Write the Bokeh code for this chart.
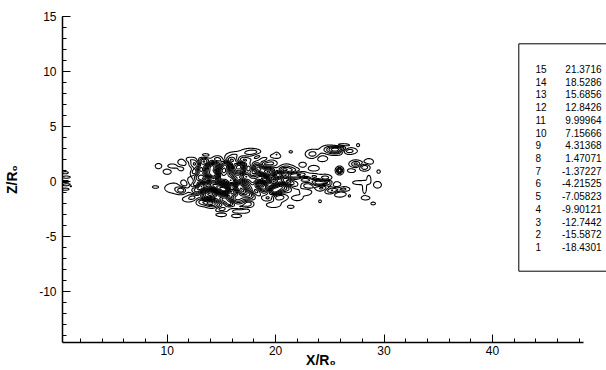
import numpy as np
from bokeh.plotting import figure
from bokeh.models import SingleIntervalTicker, Range1d
from bokeh.embed import file_html
from bokeh.resources import INLINE
from bokeh.core.properties import value

# ---------------- data ----------------
level_ids = [15, 14, 13, 12, 11, 10, 9, 8, 7, 6, 5, 4, 3, 2, 1]
level_values = [21.3716, 18.5286, 15.6856, 12.8426, 9.99964, 7.15666, 4.31368,
                1.47071, -1.37227, -4.21525, -7.05823, -9.90121, -12.7442,
                -15.5872, -18.4301]
level_labels = ["21.3716", "18.5286", "15.6856", "12.8426", "9.99964", "7.15666",
                "4.31368", "1.47071", "-1.37227", "-4.21525", "-7.05823",
                "-9.90121", "-12.7442", "-15.5872", "-18.4301"]

# vortical structures (centre x, centre z, amplitude, half-widths)
blob_x = [12.6, 13.4, 14.2, 13.0, 15.2, 16.3, 17.0, 16.0, 14.0, 12.8, 13.7, 14.8, 15.7,
          16.6, 17.3, 15.3, 16.4, 14.4, 16.8, 17.2, 12.2, 17.6, 17.6, 18.4,
          12.3, 13.8, 14.6, 15.8, 14.9, 16.0, 13.2, 12.4, 15.0, 16.9, 17.9, 13.5, 17.5,
          12.5, 13.1, 13.6, 14.4, 15.5, 16.8, 17.5, 13.2, 14.3, 15.4, 16.1, 17.0,
          13.9, 15.8, 16.5, 12.6, 17.8,
          18.4, 18.7, 19.4, 20.2, 20.8, 19.0, 19.9, 20.3, 18.2, 20.0, 21.0,
          19.6, 18.8, 21.0, 19.3, 21.4, 18.0,
          18.6, 19.2, 19.8, 20.5, 18.9, 20.6, 21.3,
          16.2, 18.0, 15.0, 16.4, 19.8, 22.0, 12.0, 11.9,
          9.2, 10.0, 10.5, 11.4, 11.3, 8.9, 10.7, 11.3, 11.6,
          21.5, 22.2, 22.8, 21.8, 23.5, 24.0, 24.6, 24.3, 25.2, 25.9, 22.8, 23.5, 22.5,
          23.0, 24.8, 25.6, 26.3,
          23.4, 24.3, 25.6, 26.6, 26.0, 27.6, 25.9, 27.4, 28.2, 28.6, 27.0,
          27.7, 28.2, 28.6, 29.4, 28.3, 29.0, 29.5,
          20.1, 21.4, 21.4, 24.1, 26.8,
          0.6, 0.7, 0.6, 0.8, 0.6, 1.1]
blob_z = [1.6, 1.8, 1.3, 0.4, 1.0, 1.2, 1.9, 2.0, -0.2, -0.8, -1.2, -0.6, 0.2,
          -0.4, 0.5, -1.6, -1.5, -2.1, -2.3, -2.6, 0.0, -1.2, 2.6, 2.2,
          1.0, 0.7, 2.0, 1.8, 0.3, -0.9, -1.8, -1.4, -2.5, 0.9, 0.0, 2.3, -2.0,
          0.9, 1.1, 0.1, 0.6, 1.6, 1.5, 1.2, -0.4, -1.0, -0.8, -0.1, -0.9,
          -1.9, -2.0, -2.7, -0.3, 0.7,
          1.2, 0.3, 0.8, 0.6, 0.2, -0.6, -0.8, -1.4, -0.9, 2.3, 1.2,
          1.6, 2.0, -0.6, -1.5, 0.5, 0.8,
          -0.2, 0.1, 0.0, -0.4, 1.5, 1.0, -0.1,
          2.4, 2.7, -3.0, -3.1, -2.1, -1.5, 2.0, -1.6,
          1.4, 0.9, 1.4, 1.7, 1.2, -0.5, -0.6, -0.8, -0.2,
          1.0, 0.6, 0.2, -0.3, 0.4, -0.1, 0.3, -0.6, -0.8, -1.1, -0.9, 1.2, 1.5,
          -0.4, -0.1, -0.3, -0.7,
          2.5, 2.1, 2.9, 2.8, 3.3, 3.3, 1.0, 1.6, 1.3, 1.8, 1.0,
          -0.1, -0.6, 0.2, -0.3, -1.5, -2.0, 0.9,
          2.5, 2.7, -2.3, -1.8, -1.3,
          0.8, 0.4, 0.0, -0.3, -0.7, -0.4]
blob_amp = [9, -12, 16, -8, -18, 14, -7, 5, 12, 10, -15, 20, -10,
            18, -12, -12, 9, 6, -5, 4, 5, 10, 5, -4,
            -6, 8, -7, 9, -9, -8, 7, -5, -6, 7, -7, 4, -6,
            12, -10, -12, 14, -12, 10, -8, 11, -12, 14, -11, 12,
            10, -9, 5, -7, 9,
            15, -12, 18, -14, 10, 12, -16, 8, -8, 3, 5,
            -6, 5, -6, -5, -5, -6,
            12, -10, 12, -9, -8, 8, 7,
            4, 3, 3.5, -3, 3.5, 3, 3, -3,
            3, -3, 3.5, -4, 3, 2.5, 3.5, 8, -5,
            6, -8, 7, 5, -6, 10, -7, -6, 8, -5, 4, 3.5, -3,
            -5, 6, -4, 5,
            6, -4, 16, -10, -5, 2.5, 12, 8, -7, 4, -3,
            3, 3, 3, 3, 2.8, 2.5, 2.5,
            2.5, 2.5, 3, 2.5, 2.5,
            3, -3, 3, -3, 3, 2.5]
blob_sx = [0.35, 0.4, 0.45, 0.4, 0.5, 0.45, 0.4, 0.5, 0.4, 0.4, 0.5, 0.5, 0.4,
           0.45, 0.4, 0.45, 0.5, 0.45, 0.5, 0.35, 0.3, 0.4, 0.6, 0.4,
           0.3, 0.3, 0.35, 0.35, 0.3, 0.3, 0.35, 0.3, 0.4, 0.3, 0.3, 0.4, 0.3,
           0.3, 0.3, 0.3, 0.3, 0.35, 0.3, 0.3, 0.3, 0.3, 0.3, 0.3, 0.3,
           0.35, 0.3, 0.35, 0.25, 0.3,
           0.4, 0.4, 0.45, 0.4, 0.4, 0.4, 0.45, 0.45, 0.35, 0.4, 0.4,
           0.35, 0.35, 0.35, 0.35, 0.3, 0.3,
           0.3, 0.3, 0.3, 0.3, 0.3, 0.3, 0.3,
           0.5, 0.4, 0.4, 0.4, 0.5, 0.4, 0.3, 0.4,
           0.25, 0.3, 0.35, 0.3, 0.25, 0.25, 0.7, 0.3, 0.3,
           0.5, 0.5, 0.5, 0.4, 0.4, 0.45, 0.35, 0.4, 0.5, 0.4, 0.4, 0.4, 0.3,
           0.35, 0.3, 0.3, 0.35,
           0.4, 0.35, 0.7, 0.5, 0.6, 0.15, 0.2, 0.35, 0.3, 0.3, 0.3,
           0.5, 0.15, 0.15, 0.3, 0.35, 0.2, 0.15,
           0.12, 0.15, 0.25, 0.12, 0.12,
           0.25, 0.3, 0.3, 0.35, 0.3, 0.15]
blob_sz = [0.3, 0.3, 0.35, 0.3, 0.35, 0.35, 0.25, 0.2, 0.3, 0.3, 0.35, 0.35, 0.3,
           0.35, 0.3, 0.3, 0.3, 0.25, 0.25, 0.2, 0.3, 0.3, 0.25, 0.25,
           0.25, 0.25, 0.2, 0.25, 0.25, 0.25, 0.25, 0.2, 0.2, 0.25, 0.3, 0.2, 0.2,
           0.25, 0.25, 0.3, 0.25, 0.25, 0.25, 0.25, 0.25, 0.25, 0.25, 0.25, 0.25,
           0.2, 0.2, 0.15, 0.2, 0.25,
           0.35, 0.3, 0.35, 0.3, 0.3, 0.3, 0.3, 0.25, 0.3, 0.2, 0.25,
           0.25, 0.2, 0.25, 0.2, 0.2, 0.25,
           0.25, 0.25, 0.25, 0.25, 0.25, 0.2, 0.2,
           0.2, 0.15, 0.15, 0.15, 0.2, 0.2, 0.15, 0.2,
           0.2, 0.2, 0.15, 0.25, 0.2, 0.1, 0.35, 0.2, 0.25,
           0.2, 0.2, 0.2, 0.25, 0.2, 0.2, 0.2, 0.2, 0.2, 0.2, 0.25, 0.2, 0.2,
           0.2, 0.2, 0.2, 0.15,
           0.25, 0.2, 0.25, 0.2, 0.12, 0.15, 0.2, 0.2, 0.2, 0.2, 0.15,
           0.15, 0.4, 0.3, 0.25, 0.15, 0.12, 0.15,
           0.12, 0.1, 0.12, 0.12, 0.12,
           0.08, 0.08, 0.08, 0.08, 0.08, 0.08]

# ---------------- field ----------------
gx = np.arange(0.0, 32.0, 0.05)
gz = np.arange(-4.0, 4.5, 0.05)
GX, GZ = np.meshgrid(gx, gz)
field = np.zeros_like(GX)
for bx, bz, ba, sx, sz in zip(blob_x, blob_z, blob_amp, blob_sx, blob_sz):
    field += ba * np.exp(-((GX - bx) ** 2 / (2 * sx ** 2) + (GZ - bz) ** 2 / (2 * sz ** 2)))

# ---------------- page geometry (Bokeh page has no body margin) ----------------
W, H = 606, 370
ML, MT, MB = 62, 16, 28


def px_x(p):
    return (p - 58.2) / 10.844


def px_z(p):
    return 15.0 - (p - 16.0) / 11.0


x0 = px_x(ML)
x1 = px_x(W)
z_top = px_z(MT)
z_bot = px_z(H - MB)

FONT = "Liberation Sans"

p = figure(width=W, height=H, output_backend="svg", toolbar_location=None,
           x_range=Range1d(x0, x1), y_range=Range1d(z_bot, z_top),
           min_border_left=ML, min_border_right=0, min_border_top=MT,
           min_border_bottom=MB, background_fill_color="white",
           border_fill_color="white")
p.outline_line_color = None
p.grid.visible = False

sorted_levels = sorted(level_values)
p.contour(gx, gz, field, levels=sorted_levels, line_color="black", line_width=1.1)

# axes
p.xaxis.ticker = SingleIntervalTicker(interval=10, num_minor_ticks=5)
p.yaxis.ticker = SingleIntervalTicker(interval=5, num_minor_ticks=5)
p.xaxis.bounds = (x0, 48.4)
for ax in (p.xaxis, p.yaxis):
    ax.axis_line_color = "black"
    ax.axis_line_width = 1.5
    ax.major_tick_in = 8
    ax.major_tick_out = 0
    ax.minor_tick_in = 4
    ax.minor_tick_out = 0
    ax.major_tick_line_color = "black"
    ax.minor_tick_line_color = "black"
    ax.major_label_text_font = FONT
    ax.major_label_text_font_size = "12px"
    ax.major_label_text_color = "black"
    ax.axis_label_text_font = FONT
    ax.axis_label_text_font_size = "14px"
    ax.axis_label_text_font_style = "bold"
    ax.axis_label_text_color = "black"
p.yaxis.major_label_overrides = {-10: "-10", -5: "-5"}
p.yaxis.axis_label = "Z/R\u2080"
# trailing no-break spaces shift the centred label to the left, as in the original
p.xaxis.axis_label = "X/R\u2080" + "\u00a0" * 7
p.xaxis.major_label_standoff = 3
p.xaxis.axis_label_standoff = -6
p.yaxis.major_label_standoff = 6
p.yaxis.axis_label_standoff = 16

# level legend box (Tecplot style)
p.quad(left=px_x(518.3), right=px_x(640), top=px_z(43.3), bottom=px_z(270.7),
       fill_color=None, line_color="black", line_width=1)
row_z = [px_z(68.3 + i * 12.74) for i in range(len(level_ids))]
p.text(x=[px_x(535)] * len(level_ids), y=row_z, text=[str(i) for i in level_ids],
       text_font=value(FONT), text_font_size="10px", text_align="left",
       text_baseline="middle", text_color="black")
p.text(x=[px_x(601)] * len(level_ids), y=row_z, text=level_labels,
       text_font=value(FONT), text_font_size="10px", text_align="right",
       text_baseline="middle", text_color="black")

open("out.html", "w").write(file_html(p, INLINE))
